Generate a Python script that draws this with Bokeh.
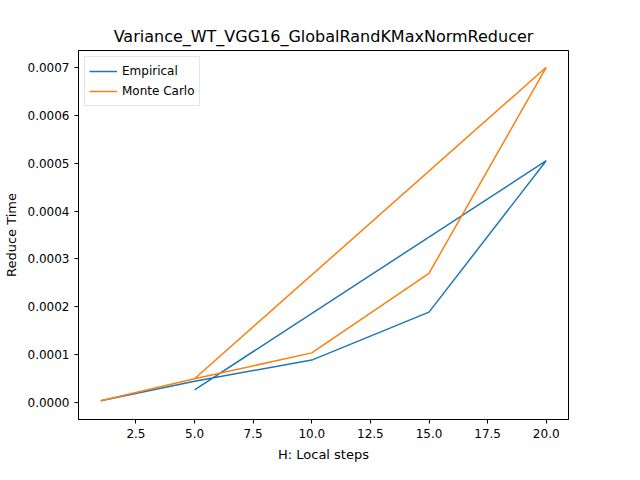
from bokeh.plotting import figure
from bokeh.models import FixedTicker, NumeralTickFormatter, Range1d
from bokeh.embed import file_html
from bokeh.resources import INLINE

# local steps (the run loops back to H=5 at the end)
steps = [1, 5, 10, 15, 20, 5]
empirical = [0.000004, 0.000045, 0.000089, 0.000189, 0.000505, 0.000027]
monte_carlo = [0.000004, 0.00005, 0.000104, 0.00027, 0.0007, 0.00005]

p = figure(
    width=624, height=464, output_backend="svg", toolbar_location=None,
    title="Variance_WT_VGG16_GlobalRandKMaxNormReducer",
    x_axis_label="H: Local steps", y_axis_label="Reduce Time",
    x_range=Range1d(0.05, 20.95), y_range=Range1d(-0.000035, 0.000735),
    min_border_left=72, min_border_right=56, min_border_top=50, min_border_bottom=44,
)
p.title.align = "center"
p.title.text_font_size = "16px"
p.title.text_font_style = "normal"
p.title.text_font = "DejaVu Sans"
p.title.text_color = "black"
p.grid.visible = False
p.outline_line_color = "black"

for ax in (p.xaxis, p.yaxis):
    ax.axis_label_text_font = "DejaVu Sans"
    ax.axis_label_text_font_style = "normal"
    ax.axis_label_text_font_size = "13px"
    ax.axis_label_text_color = "black"
    ax.axis_label_standoff = 6
    ax.major_label_text_font = "DejaVu Sans"
    ax.major_label_text_font_size = "12px"
    ax.major_label_text_color = "black"
    ax.axis_line_color = "black"
    ax.major_tick_line_color = "black"
    ax.minor_tick_line_color = None
    ax.major_tick_out = 4
    ax.major_tick_in = 0
p.xaxis.ticker = FixedTicker(ticks=[2.5, 5, 7.5, 10, 12.5, 15, 17.5, 20])
p.xaxis.formatter = NumeralTickFormatter(format="0.0")
p.yaxis.ticker = FixedTicker(ticks=[i * 0.0001 for i in range(8)])
p.yaxis.formatter = NumeralTickFormatter(format="0.0000")

p.line(steps, empirical, color="#1f77b4", line_width=1.5, legend_label="Empirical")
p.line(steps, monte_carlo, color="#ff7f0e", line_width=1.5, legend_label="Monte Carlo")

p.legend.location = "top_left"
p.legend.label_text_font = "DejaVu Sans"
p.legend.label_text_font_size = "12px"
p.legend.label_text_color = "black"
p.legend.border_line_color = "#cccccc"
p.legend.glyph_width = 28
p.legend.spacing = 0
p.legend.padding = 4
p.legend.margin = 6

open("out.html", "w").write(file_html(p, INLINE))
